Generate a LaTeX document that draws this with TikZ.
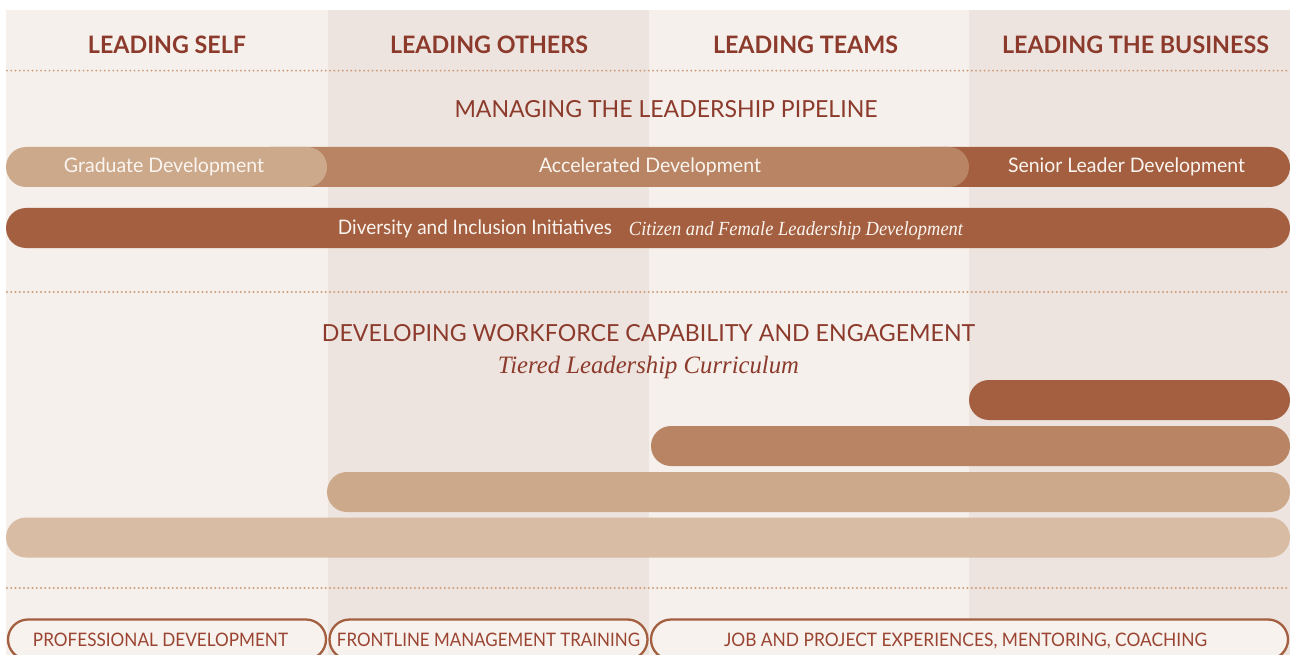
\documentclass[tikz,border=0pt]{standalone}
\usepackage{fontspec}
\usepackage{graphicx}
\setmainfont{Lato}
\newfontfamily\serifit{Liberation Serif}
\definecolor{bgA}{HTML}{F5F0EC}
\definecolor{bgB}{HTML}{EDE4DF}
\definecolor{txt}{HTML}{8C3A2B}
\definecolor{pilltxt}{HTML}{9A4431}
\definecolor{dotc}{HTML}{CD9E7E}
\definecolor{barD}{HTML}{A35F40}
\definecolor{barM}{HTML}{B88463}
\definecolor{barL}{HTML}{CDA98C}
\definecolor{barXL}{HTML}{D9BCA4}
\definecolor{pillfill}{HTML}{F7F2EE}
\definecolor{bartxt}{HTML}{FBF5F0}
\newcommand\fitw[2]{\resizebox{#1pt}{\height}{#2}}
\begin{document}
\begin{tikzpicture}[x=1pt,y=-1pt,
  hdr/.style={text=txt, inner sep=0pt, anchor=base, font=\bfseries\fontsize{24}{24}\selectfont},
  sect/.style={text=txt, inner sep=0pt, anchor=base, font=\fontsize{23.5}{23.5}\selectfont},
  sub/.style={text=txt, inner sep=0pt, anchor=base, font=\serifit\itshape\fontsize{25}{25}\selectfont},
  bartext/.style={text=bartxt, inner sep=0pt, anchor=base, font=\fontsize{20}{20}\selectfont},
  baritext/.style={text=bartxt, inner sep=0pt, anchor=base, font=\serifit\itshape\fontsize{20}{20}\selectfont},
  bar/.style={rounded corners=20pt, minimum height=40pt, inner sep=0pt, draw=none},
  pill/.style={draw=barD, line width=2.3pt, fill=pillfill, rounded corners=20pt, minimum height=40pt, inner sep=0pt},
  pilltext/.style={text=pilltxt, inner sep=0pt, anchor=base, font=\fontsize{18.6}{18.6}\selectfont},
  dotline/.style={dotc, line width=2.1pt, line cap=round, dash pattern=on 0pt off 4.25pt}
]
\useasboundingbox (0,0) rectangle (1290,655);
\fill[white] (0,0) rectangle (1290,655);
% columns
\fill[bgA] (6,10) rectangle (328,655);
\fill[bgB] (328,10) rectangle (649,655);
\fill[bgA] (649,10) rectangle (969,655);
\fill[bgB] (969,10) rectangle (1290,655);

% headers
\node[hdr] (h1) at (167,53.3) {\fitw{158}{LEADING SELF}};
\node[hdr] (h2) at (489,53.3) {\fitw{198}{LEADING OTHERS}};
\node[hdr] (h3) at (805.5,53.3) {\fitw{185}{LEADING TEAMS}};
\node[hdr] (h4) at (1135.5,53.3) {\fitw{267}{LEADING THE BUSINESS}};

% dotted lines
\coordinate (d1a) at (7,70.7); \coordinate (d1b) at (1290,70.7);
\coordinate (d2a) at (7,292); \coordinate (d2b) at (1290,292);
\coordinate (d3a) at (7,588); \coordinate (d3b) at (1290,588);
\draw[dotline] (d1a) -- (d1b);
\draw[dotline] (d2a) -- (d2b);
\draw[dotline] (d3a) -- (d3b);

% pipeline section
\node[sect] (t1) at (666,117.3) {\fitw{423}{MANAGING THE LEADERSHIP PIPELINE}};

\node[bar, fill=barD, minimum width=390pt] (senior) at (1095,167) {};
\node[bar, fill=barM, minimum width=719pt] (accel) at (609.5,167) {};
\node[bar, fill=barL, minimum width=321pt] (grad) at (166.5,167) {};
\node[bartext] (gradT) at (164,172.8) {\fitw{200}{Graduate Development}};
\node[bartext] (accelT) at (650,172.8) {\fitw{222}{Accelerated Development}};
\node[bartext] (seniorT) at (1126.5,172.8) {\fitw{237}{Senior Leader Development}};

\node[bar, fill=barD, minimum width=1284pt] (div) at (648,228) {};
\node[bartext] (divT) at (475,234.3) {\fitw{274}{Diversity and Inclusion Initiatives}};
\node[baritext] (divI) at (796,235) {\fitw{334}{Citizen and Female Leadership Development}};

% workforce section
\node[sect] (t2) at (648.5,341) {\fitw{653}{DEVELOPING WORKFORCE CAPABILITY AND ENGAGEMENT}};
\node[sub] (t2s) at (648.5,373.3) {\fitw{301}{Tiered Leadership Curriculum}};

\node[bar, fill=barD, minimum width=321pt] (tierA) at (1129.5,400) {};
\node[bar, fill=barM, minimum width=639pt] (tierB) at (970.5,446) {};
\node[bar, fill=barL, minimum width=963pt] (tierC) at (808.5,492) {};
\node[bar, fill=barXL, minimum width=1284pt] (tierD) at (648,537.5) {};

% pills
\node[pill, minimum width=318pt] (p1) at (167,639.5) {};
\node[pill, minimum width=318pt] (p2) at (488.5,639.5) {};
\node[pill, minimum width=637pt] (p3) at (969.5,639.5) {};
\node[pilltext] (p1T) at (160.5,646.5) {\fitw{255}{PROFESSIONAL DEVELOPMENT}};
\node[pilltext] (p2T) at (488.5,646.5) {\fitw{303}{FRONTLINE MANAGEMENT TRAINING}};
\node[pilltext] (p3T) at (965.5,646.5) {\fitw{483}{JOB AND PROJECT EXPERIENCES, MENTORING, COACHING}};
\end{tikzpicture}
\end{document}
